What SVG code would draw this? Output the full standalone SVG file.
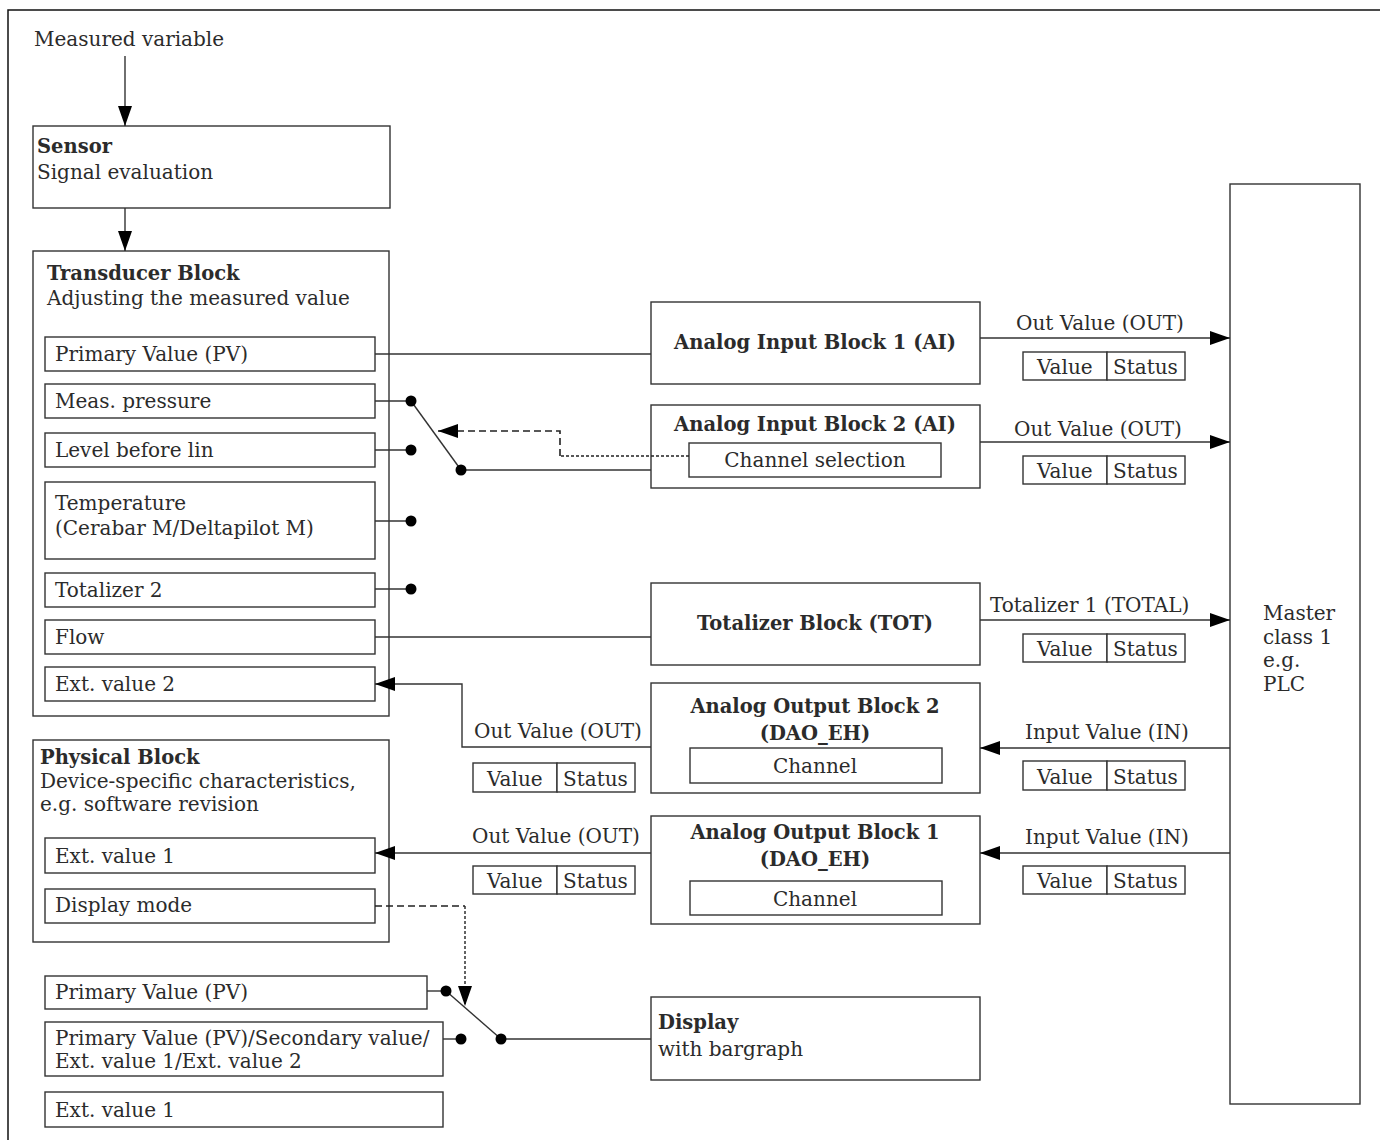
<svg xmlns="http://www.w3.org/2000/svg" width="1380" height="1140" viewBox="0 0 1380 1140">
<style>
text{font-family:"DejaVu Serif","Liberation Serif",serif;font-size:20px;fill:#2b2b2b}
.b{font-weight:bold;font-size:19.5px}
.m{text-anchor:middle}
.box{fill:#fff;stroke:#333;stroke-width:1.4}
.ln{fill:none;stroke:#333;stroke-width:1.4}
.ds{fill:none;stroke:#222;stroke-width:1.6;stroke-dasharray:7 4}
.dt{fill:none;stroke:#222;stroke-width:1.4;stroke-dasharray:3 2}
.dot{fill:#000}
</style>
<defs>
<marker id="ah" markerUnits="userSpaceOnUse" viewBox="0 0 20 14" refX="20" refY="7" markerWidth="20" markerHeight="14" orient="auto">
<path d="M0,0 L20,7 L0,14 z" fill="#000"/>
</marker>
</defs>
<rect x="8" y="10" width="1500" height="1300" fill="none" stroke="#111" stroke-width="1.5"/>

<g id="measured-variable"><text x="34" y="46">Measured variable</text></g>

<g id="sensor">
<rect class="box" x="33" y="126" width="357" height="82"/>
<text class="b" x="37" y="153">Sensor</text>
<text x="37" y="179">Signal evaluation</text>
</g>

<g id="transducer-block">
<rect class="box" x="33" y="251" width="356" height="465"/>
<text class="b" x="47" y="280">Transducer Block</text>
<text x="47" y="305">Adjusting the measured value</text>
<rect class="box" x="45" y="337" width="330" height="34"/>
<text x="55" y="361">Primary Value (PV)</text>
<rect class="box" x="45" y="384" width="330" height="34"/>
<text x="55" y="408">Meas. pressure</text>
<rect class="box" x="45" y="433" width="330" height="34"/>
<text x="55" y="457">Level before lin</text>
<rect class="box" x="45" y="482" width="330" height="77"/>
<text x="55" y="510">Temperature</text>
<text x="55" y="535">(Cerabar M/Deltapilot M)</text>
<rect class="box" x="45" y="573" width="330" height="34"/>
<text x="55" y="597">Totalizer 2</text>
<rect class="box" x="45" y="620" width="330" height="34"/>
<text x="55" y="644">Flow</text>
<rect class="box" x="45" y="667" width="330" height="34"/>
<text x="55" y="691">Ext. value 2</text>
</g>

<g id="physical-block">
<rect class="box" x="33" y="740" width="356" height="202"/>
<text class="b" x="40" y="764">Physical Block</text>
<text x="40" y="788">Device-specific characteristics,</text>
<text x="40" y="811">e.g. software revision</text>
<rect class="box" x="45" y="838" width="330" height="35"/>
<text x="55" y="863">Ext. value 1</text>
<rect class="box" x="45" y="889" width="330" height="34"/>
<text x="55" y="912">Display mode</text>
</g>

<g id="display-options">
<rect class="box" x="45" y="976" width="382" height="33"/>
<text x="55" y="999">Primary Value (PV)</text>
<rect class="box" x="45" y="1022" width="398" height="54"/>
<text x="55" y="1045">Primary Value (PV)/Secondary value/</text>
<text x="55" y="1068">Ext. value 1/Ext. value 2</text>
<rect class="box" x="45" y="1092" width="398" height="35"/>
<text x="55" y="1117">Ext. value 1</text>
</g>

<g id="ai1">
<rect class="box" x="651" y="302" width="329" height="82"/>
<text class="b m" x="815" y="349">Analog Input Block 1 (AI)</text>
</g>

<g id="ai2">
<rect class="box" x="651" y="405" width="329" height="83"/>
<text class="b m" x="815" y="431">Analog Input Block 2 (AI)</text>
<rect class="box" x="689" y="443" width="252" height="34"/>
<text class="m" x="815" y="467">Channel selection</text>
</g>

<g id="tot">
<rect class="box" x="651" y="583" width="329" height="82"/>
<text class="b m" x="815" y="630">Totalizer Block (TOT)</text>
</g>

<g id="ao2">
<rect class="box" x="651" y="683" width="329" height="110"/>
<text class="b m" x="815" y="713">Analog Output Block 2</text>
<text class="b m" x="815" y="740">(DAO_EH)</text>
<rect class="box" x="690" y="748" width="252" height="35"/>
<text class="m" x="815" y="773">Channel</text>
</g>

<g id="ao1">
<rect class="box" x="651" y="816" width="329" height="108"/>
<text class="b m" x="815" y="839">Analog Output Block 1</text>
<text class="b m" x="815" y="866">(DAO_EH)</text>
<rect class="box" x="690" y="881" width="252" height="34"/>
<text class="m" x="815" y="906">Channel</text>
</g>

<g id="display">
<rect class="box" x="651" y="997" width="329" height="83"/>
<text class="b" x="658" y="1029">Display</text>
<text x="658" y="1056">with bargraph</text>
</g>

<g id="master">
<rect class="box" x="1230" y="184" width="130" height="920"/>
<text x="1263" y="620">Master</text>
<text x="1263" y="644">class 1</text>
<text x="1263" y="667">e.g.</text>
<text x="1263" y="691">PLC</text>
</g>

<g id="labels-right">
<text x="1016" y="330">Out Value (OUT)</text>
<rect class="box" x="1023" y="352" width="84" height="28"/><rect class="box" x="1107" y="352" width="78" height="28"/>
<text x="1037" y="374">Value</text><text x="1113" y="374">Status</text>

<text x="1014" y="436">Out Value (OUT)</text>
<rect class="box" x="1023" y="456" width="84" height="28"/><rect class="box" x="1107" y="456" width="78" height="28"/>
<text x="1037" y="478">Value</text><text x="1113" y="478">Status</text>

<text x="990" y="612">Totalizer 1 (TOTAL)</text>
<rect class="box" x="1023" y="634" width="84" height="28"/><rect class="box" x="1107" y="634" width="78" height="28"/>
<text x="1037" y="656">Value</text><text x="1113" y="656">Status</text>

<text x="1025" y="739">Input Value (IN)</text>
<rect class="box" x="1023" y="761" width="84" height="29"/><rect class="box" x="1107" y="761" width="78" height="29"/>
<text x="1037" y="784">Value</text><text x="1113" y="784">Status</text>

<text x="1025" y="844">Input Value (IN)</text>
<rect class="box" x="1023" y="866" width="84" height="28"/><rect class="box" x="1107" y="866" width="78" height="28"/>
<text x="1037" y="888">Value</text><text x="1113" y="888">Status</text>
</g>

<g id="labels-left">
<text x="474" y="738">Out Value (OUT)</text>
<rect class="box" x="473" y="763" width="84" height="29"/><rect class="box" x="557" y="763" width="78" height="29"/>
<text x="487" y="786">Value</text><text x="563" y="786">Status</text>

<text x="472" y="843">Out Value (OUT)</text>
<rect class="box" x="473" y="866" width="84" height="28"/><rect class="box" x="557" y="866" width="78" height="28"/>
<text x="487" y="888">Value</text><text x="563" y="888">Status</text>
</g>

<g id="connectors">
<line class="ln" x1="125" y1="56" x2="125" y2="126" marker-end="url(#ah)"/>
<line class="ln" x1="125" y1="208" x2="125" y2="251" marker-end="url(#ah)"/>
<line class="ln" x1="375" y1="354" x2="651" y2="354"/>
<line class="ln" x1="375" y1="401" x2="411" y2="401"/>
<line class="ln" x1="375" y1="450" x2="411" y2="450"/>
<line class="ln" x1="375" y1="521" x2="411" y2="521"/>
<line class="ln" x1="375" y1="589" x2="411" y2="589"/>
<line class="ln" x1="411" y1="401" x2="461" y2="470"/>
<line class="ln" x1="461" y1="470" x2="651" y2="470"/>
<polyline class="dt" points="689,456 560,456"/>
<polyline class="ds" points="560,456 560,431 438,431" marker-end="url(#ah)"/>
<line class="ln" x1="375" y1="637" x2="651" y2="637"/>
<polyline class="ln" points="651,747 462,747 462,684 375,684" marker-end="url(#ah)"/>
<line class="ln" x1="651" y1="853" x2="375" y2="853" marker-end="url(#ah)"/>
<line class="ln" x1="980" y1="338" x2="1230" y2="338" marker-end="url(#ah)"/>
<line class="ln" x1="980" y1="442" x2="1230" y2="442" marker-end="url(#ah)"/>
<line class="ln" x1="980" y1="620" x2="1230" y2="620" marker-end="url(#ah)"/>
<line class="ln" x1="1230" y1="748" x2="980" y2="748" marker-end="url(#ah)"/>
<line class="ln" x1="1230" y1="853" x2="980" y2="853" marker-end="url(#ah)"/>
<polyline class="ds" points="375,906 465,906"/>
<polyline class="dt" points="465,906 465,1006" marker-end="url(#ah)"/>
<line class="ln" x1="427" y1="991" x2="446" y2="991"/>
<line class="ln" x1="443" y1="1039" x2="461" y2="1039"/>
<line class="ln" x1="446" y1="991" x2="501" y2="1039"/>
<line class="ln" x1="501" y1="1039" x2="651" y2="1039"/>
<circle class="dot" cx="411" cy="401" r="5.5"/>
<circle class="dot" cx="411" cy="450" r="5.5"/>
<circle class="dot" cx="411" cy="521" r="5.5"/>
<circle class="dot" cx="411" cy="589" r="5.5"/>
<circle class="dot" cx="461" cy="470" r="5.5"/>
<circle class="dot" cx="446" cy="991" r="5.5"/>
<circle class="dot" cx="461" cy="1039" r="5.5"/>
<circle class="dot" cx="501" cy="1039" r="5.5"/>
</g>
</svg>
